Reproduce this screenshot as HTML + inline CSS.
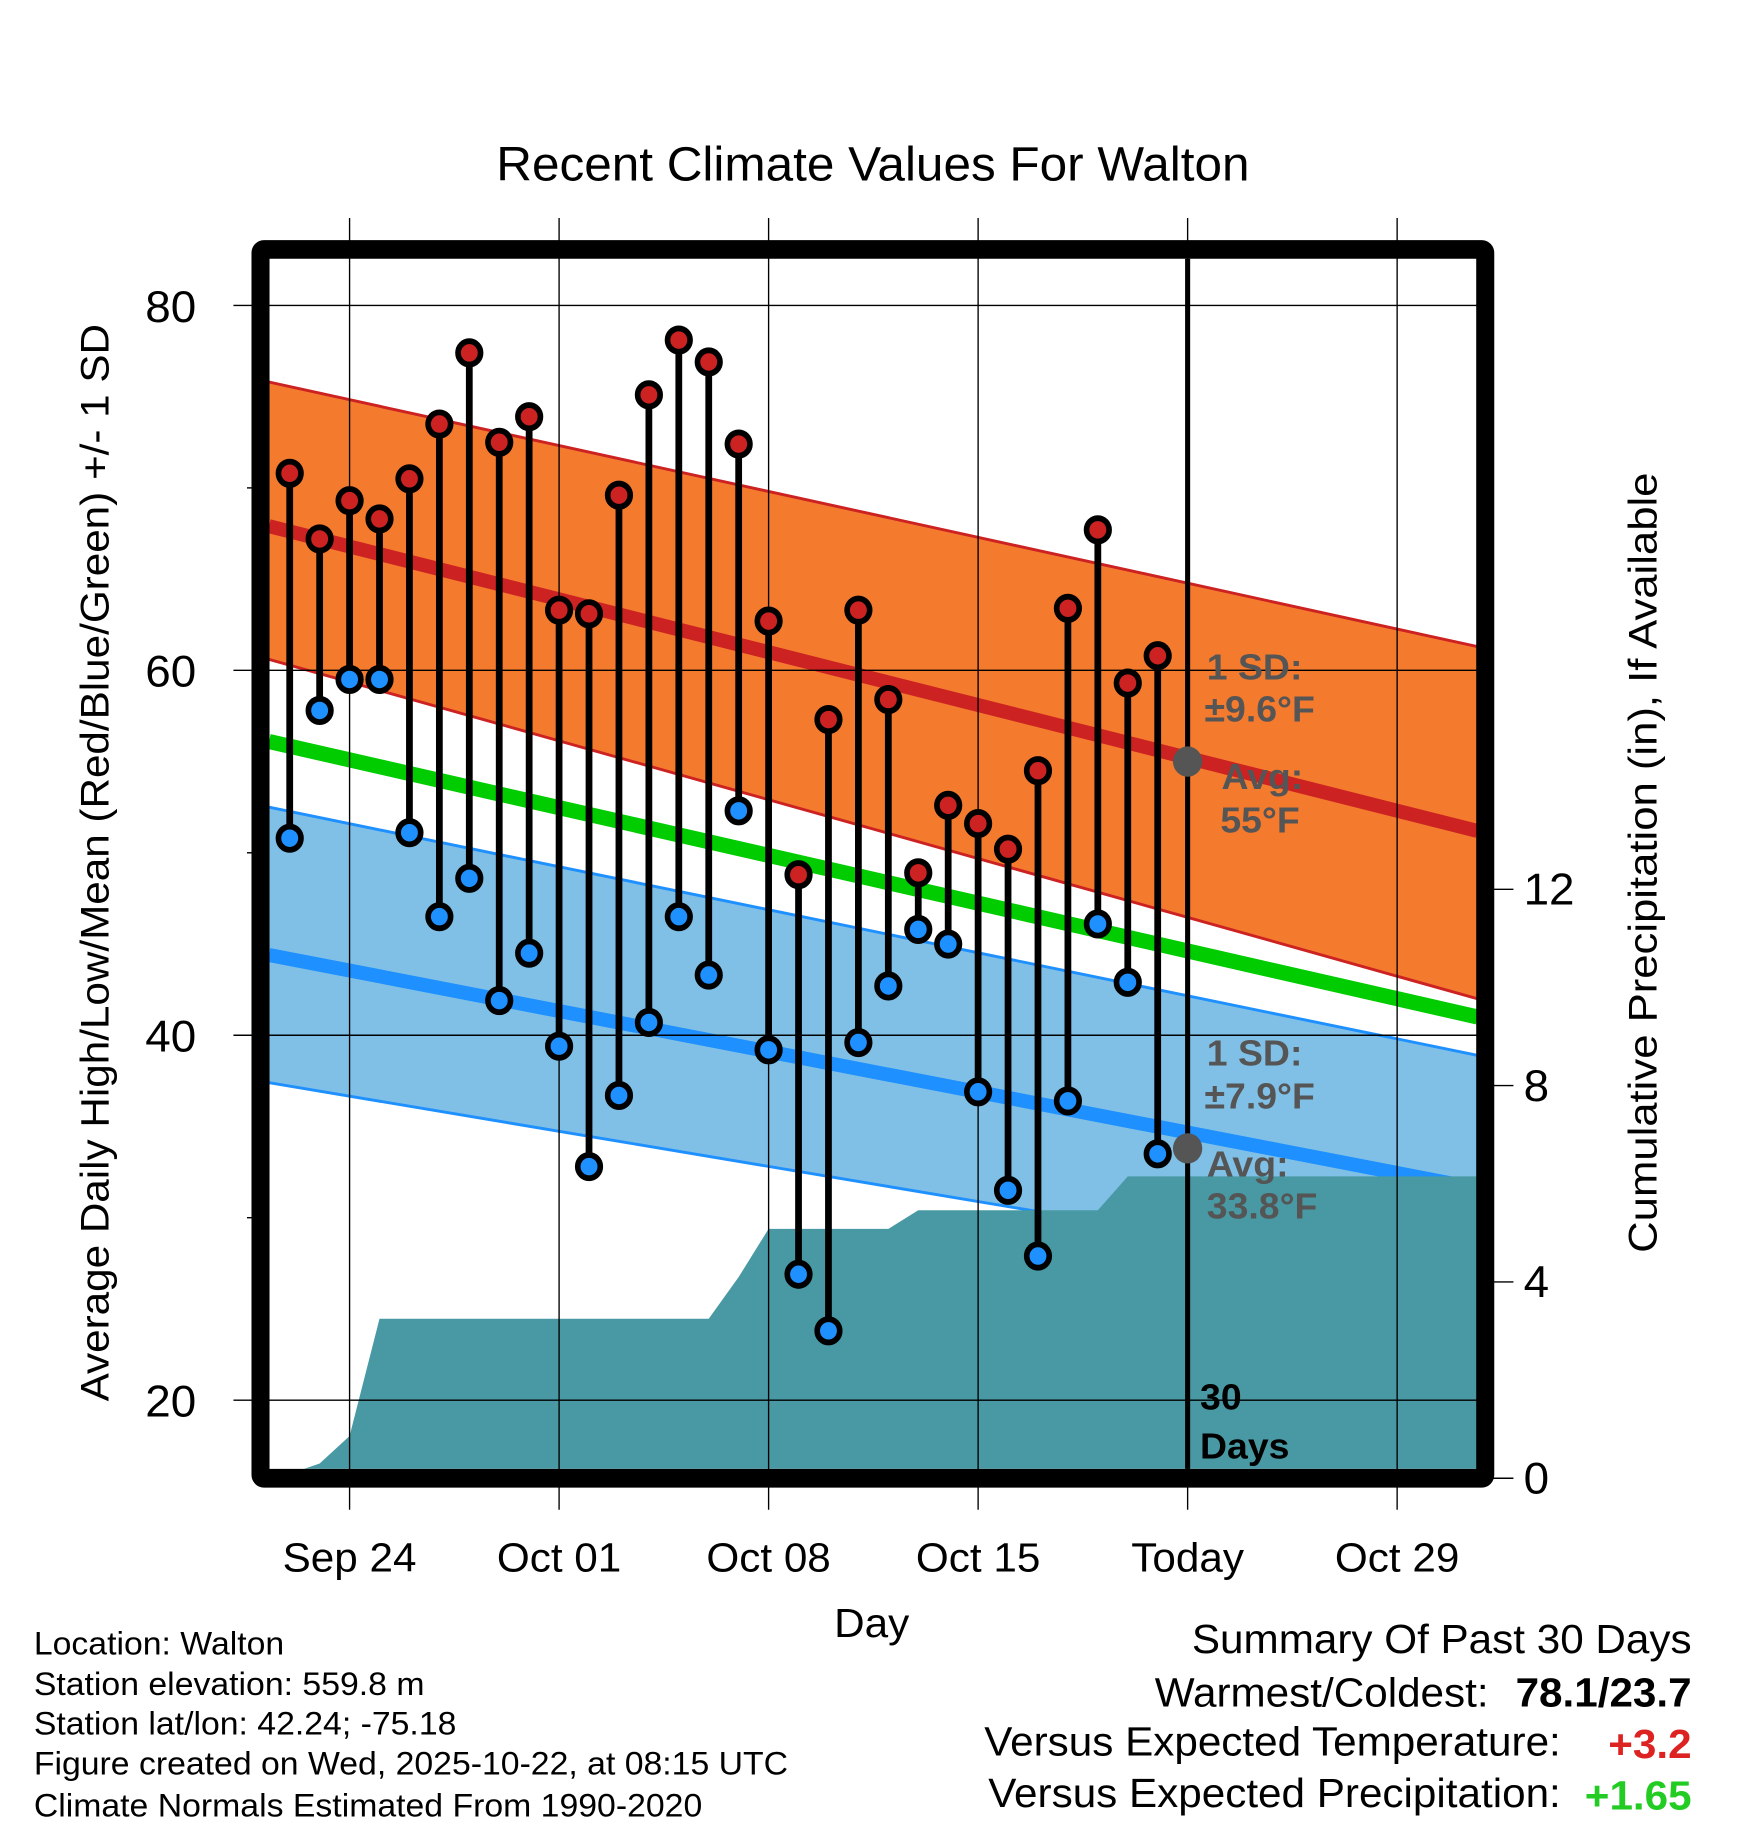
<!DOCTYPE html>
<html><head><meta charset="utf-8"><style>
html,body{margin:0;padding:0;background:#fff;}
svg{display:block;}
text{font-family:"Liberation Sans",sans-serif;}
</style></head><body>
<svg id="chart" xmlns="http://www.w3.org/2000/svg" width="1748" height="1828" viewBox="0 0 1550 1568" preserveAspectRatio="none">
<g id="layer"></g>
</svg>
<script>
// ---- data ----
const highs = [70.8,67.2,69.3,68.3,70.5,73.5,77.4,72.5,73.9,63.3,63.1,69.6,75.1,78.1,76.9,72.4,62.7,48.8,57.3,63.3,58.4,48.9,52.6,51.6,50.2,54.5,63.4,67.7,59.3,60.8];
const lows  = [50.8,57.8,59.5,59.5,51.1,46.5,48.6,41.9,44.5,39.4,32.8,36.7,40.7,46.5,43.3,52.3,39.2,26.9,23.8,39.6,42.7,45.8,45.0,36.9,31.5,27.9,36.4,46.1,42.9,33.5];
const precipCum = [0,0.3,0.86,3.25,3.25,3.25,3.25,3.25,3.25,3.25,3.25,3.25,3.25,3.25,3.25,4.1,5.08,5.08,5.08,5.08,5.08,5.46,5.46,5.46,5.46,5.46,5.46,5.46,6.15,6.15];
const normHighAvg = [67.9,51.2];
const normHighUp = [75.8,61.3];
const normHighLo = [60.6,42.0];
const normMean = [56.1,41.0];
const normLowUp = [52.5,38.9];
const normLowAvg = [44.4,31.6];
const normLowLo = [37.4,26.3];
const todayHighAvg = 55;
const todayLowAvg = 33.8;
const xTickLabels = ["Sep 24","Oct 01","Oct 08","Oct 15","Today","Oct 29"];
const xTickDays = [2,9,16,23,30,37];
const yTicks = [20,40,60,80];
const yMinor = [30,50,70];
const pTicks = [0,4,8,12];

// ---- axes ----
const PL=238.6,PR=1310,PT=222,PB=1260;
const X=d=>256.9+d*26.54;
const Y=v=>575-(v-60)*15.65;
const P=v=>1268-v*42.1;
const NS="http://www.w3.org/2000/svg";
const g=document.getElementById('layer');
function el(tag,attrs,parent){const e=document.createElementNS(NS,tag);for(const k in attrs)e.setAttribute(k,attrs[k]);(parent||g).appendChild(e);return e;}
function txt(s,attrs){const e=el('text',attrs);e.textContent=s;return e;}

const clip=el('clipPath',{id:'pc'});el('rect',{x:PL,y:PT,width:PR-PL,height:PB-PT},clip);
const pg=el('g',{'clip-path':'url(#pc)'});

function band(up,lo,fill,name){
  const p=el('polygon',{points:`${PL},${Y(up[0])} ${PR},${Y(up[1])} ${PR},${Y(lo[1])} ${PL},${Y(lo[0])}`,fill:fill},pg);
  
  
}
function line(v,stroke,w,name){
  const l=el('line',{x1:PL,y1:Y(v[0]),x2:PR,y2:Y(v[1]),stroke:stroke,'stroke-width':w},pg);
  
  
}
band(normHighUp,normHighLo,'#f47a2e','high-sd-band');
band(normLowUp,normLowLo,'#80c0e6','low-sd-band');
line(normHighUp,'#cc2222',2.5,'high-sd-upper');
line(normHighLo,'#cc2222',2.5,'high-sd-lower');
line(normLowUp,'#1e90ff',2.5,'low-sd-upper');
line(normLowLo,'#1e90ff',2.5,'low-sd-lower');
line(normHighAvg,'#cc2222',12,'normal-high-line');
line(normMean,'#00cc00',13,'normal-mean-line');
line(normLowAvg,'#1e90ff',12,'normal-low-line');

let pts=`${X(0.48)},${PB} `;
precipCum.forEach((v,i)=>{ if(i>0) pts+=`${X(i)},${P(v)} `; });
pts+=`${PR},${P(precipCum[precipCum.length-1])} ${PR},${PB}`;
const area=el('polygon',{points:pts,fill:'#4899a4'},pg);



const texts=[];
xTickDays.forEach((d,i)=>{
  const l=el('line',{x1:X(d),y1:187,x2:X(d),y2:1295,stroke:'#000','stroke-width':1.2});
  
  
  const t=txt(xTickLabels[i],{x:X(d),y:1348,'font-size':35,'text-anchor':'middle'});
  
  
  texts.push(t);
});
yTicks.forEach(v=>{
  const l=el('line',{x1:207,y1:Y(v),x2:PR,y2:Y(v),stroke:'#000','stroke-width':1.2});
  
  
  const t=txt(String(v),{x:174,y:Y(v)+14,'font-size':38,'text-anchor':'end'});
  
  
  texts.push(t);
});
yMinor.forEach(v=>{
  const l=el('line',{x1:219,y1:Y(v),x2:232,y2:Y(v),stroke:'#000','stroke-width':1.2});
  
  
});
pTicks.forEach(v=>{
  const l=el('line',{x1:1322,y1:P(v),x2:1342,y2:P(v),stroke:'#000','stroke-width':1.2});
  
  
  const t=txt(String(v),{x:1351,y:P(v)+13,'font-size':38});
  
  
  texts.push(t);
});

const tl=el('line',{x1:X(30),y1:PT,x2:X(30),y2:PB,stroke:'#000','stroke-width':4.5});



function ann(s,x,y,fill,name){const t=txt(s,{x:x,y:y,'font-size':31,'font-weight':'bold',fill:fill});texts.push(t);return t;}
const c1=el('circle',{cx:X(30),cy:Y(todayHighAvg),r:13,fill:'#555'});


const c2=el('circle',{cx:X(30),cy:Y(todayLowAvg),r:13,fill:'#555'});


const tx=X(30);
ann('1 SD:',tx+17,583,'#555','high-sd-label');
ann('±9.6°F',tx+15,619,'#555','high-sd-value');
ann('Avg:',tx+30,677,'#555','high-avg-label');
ann('55°F',tx+29,714,'#555','high-avg-value');
ann('1 SD:',tx+17,914,'#555','low-sd-label');
ann('±7.9°F',tx+15,951,'#555','low-sd-value');
ann('Avg:',tx+17,1009,'#555','low-avg-label');
ann('33.8°F',tx+17,1045,'#555','low-avg-value');
ann('30',tx+11,1209,'#000','days-count-label');
ann('Days',tx+11,1251,'#000','days-label');

highs.forEach((h,i)=>{
  const s=el('line',{x1:X(i),y1:Y(h),x2:X(i),y2:Y(lows[i]),stroke:'#000','stroke-width':6});
  
  
});
highs.forEach((h,i)=>{
  const a=el('circle',{cx:X(i),cy:Y(h),r:10,fill:'#cc2222',stroke:'#000','stroke-width':5});
  
  
  const b=el('circle',{cx:X(i),cy:Y(lows[i]),r:10,fill:'#1e90ff',stroke:'#000','stroke-width':5});
  
  
});

const fr=el('rect',{x:231,y:214,width:1086,height:1054,fill:'none',stroke:'#000','stroke-width':16,rx:3});



function T(s,attrs,name){const t=txt(s,attrs);texts.push(t);return t;}
T('Recent Climate Values For Walton',{x:774,y:155,'font-size':41,'text-anchor':'middle'},'chart-title');
T('Day',{x:773,y:1404,'font-size':35,'text-anchor':'middle'},'x-axis-title');
const yt=T('Average Daily High/Low/Mean (Red/Blue/Green) +/- 1 SD',{x:0,y:0,'font-size':35,'text-anchor':'middle',transform:'translate(96,740) rotate(-90)'},'y-axis-title');
yt.dataset.f='1.035';
T('Cumulative Precipitation (in), If Available',{x:0,y:0,'font-size':35,'text-anchor':'middle',transform:'translate(1469,740) rotate(-90)'},'precip-axis-title');
const info=['Location: Walton','Station elevation: 559.8 m','Station lat/lon: 42.24; -75.18','Figure created on Wed, 2025-10-22, at 08:15 UTC','Climate Normals Estimated From 1990-2020'];
const iy=[1419,1454,1488,1522,1558];
info.forEach((s,i)=>T(s,{x:30,y:iy[i],'font-size':28},'station-info-line'));
T('Summary Of Past 30 Days',{x:1500,y:1418,'font-size':35,'text-anchor':'end'},'summary-title');
T('Warmest/Coldest:',{x:1320,y:1464,'font-size':35,'text-anchor':'end'},'warmest-coldest-label');
T('78.1/23.7',{x:1500,y:1464,'font-size':35,'font-weight':'bold','text-anchor':'end'},'warmest-coldest-value');
T('Versus Expected Temperature:',{x:1384,y:1506,'font-size':35,'text-anchor':'end'},'temp-anomaly-label');
T('+3.2',{x:1500,y:1508,'font-size':35,'font-weight':'bold','text-anchor':'end',fill:'#dd2222'},'temp-anomaly-value');
T('Versus Expected Precipitation:',{x:1384,y:1550,'font-size':35,'text-anchor':'end'},'precip-anomaly-label');
T('+1.65',{x:1500,y:1552,'font-size':35,'font-weight':'bold','text-anchor':'end',fill:'#22cc22'},'precip-anomaly-value');

texts.forEach(t=>{
  const len=t.getComputedTextLength();
  const f=parseFloat(t.dataset.f||'1.07');
  if(len>0){t.setAttribute('textLength',(len*f).toFixed(1));t.setAttribute('lengthAdjust','spacingAndGlyphs');}
});
</script>
</body></html>
